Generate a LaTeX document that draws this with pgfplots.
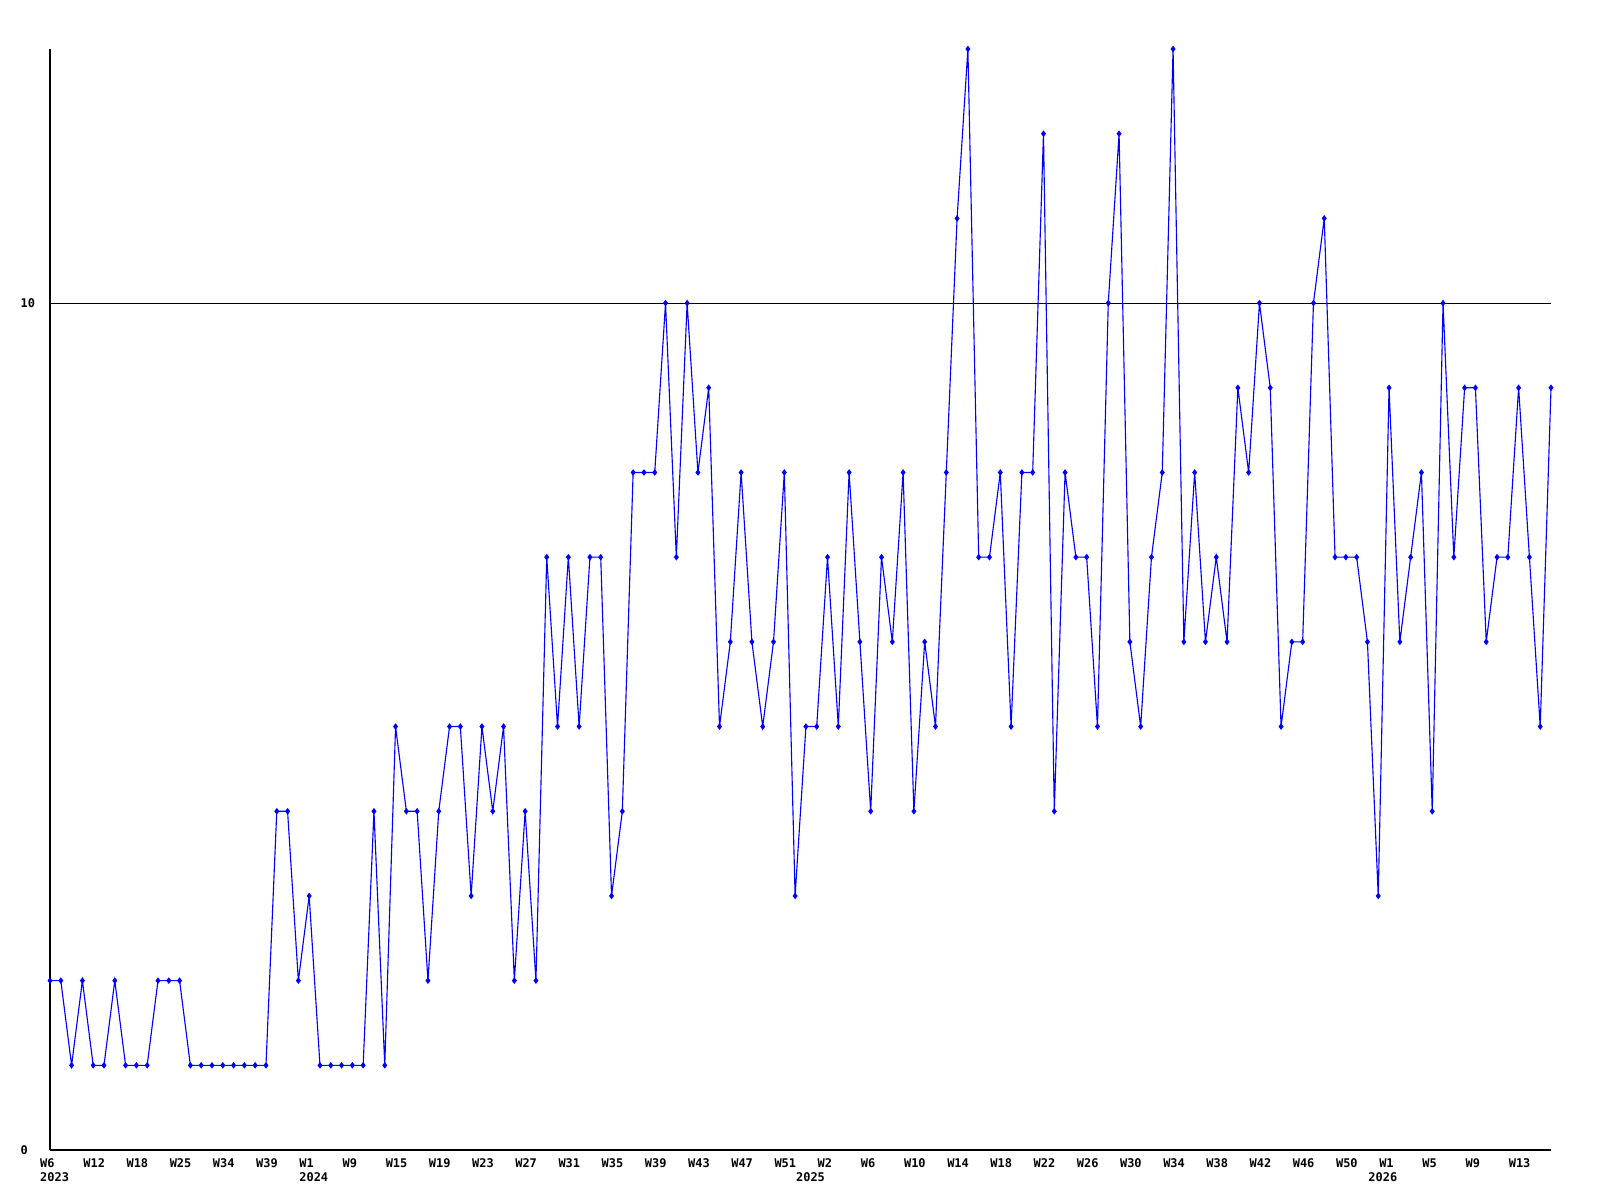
\documentclass[border=0pt]{standalone}
\usepackage{fontspec}
\setmonofont{DejaVu Sans Mono}
\usepackage{pgfplots}
\pgfplotsset{compat=1.18}

\newcommand{\lblfont}{\ttfamily\bfseries\fontsize{3.4}{4}\selectfont}
\tikzset{yearlbl/.style={anchor=north west, inner sep=0pt, font=\lblfont, xshift=-0.105cm, yshift=-0.22cm}}

\begin{document}
\begin{tikzpicture}
\useasboundingbox (0,0) rectangle (16,12);
\begin{axis}[
    at={(0.5cm,0.5cm)}, anchor=south west,
    width=15.01cm, height=11.01cm, scale only axis,
    xmin=0, xmax=139, ymin=0, ymax=13,
    axis lines*=left,
    axis line style={black, line width=0.3pt},
    xtick={0,4,...,136},
    xticklabels={W6,W12,W18,W25,W34,W39,W1,W9,W15,W19,W23,W27,W31,W35,W39,W43,W47,W51,
                 W2,W6,W10,W14,W18,W22,W26,W30,W34,W38,W42,W46,W50,W1,W5,W9,W13},
    ytick={0,10}, yticklabels={0,10},
    ymajorgrids, grid style={black, line width=0.3pt},
    major tick length=0pt,
    tick label style={font=\lblfont, inner sep=0pt},
    xticklabel style={anchor=north west, xshift=-0.105cm, yshift=-0.08cm},
    yticklabel style={anchor=west, xshift=-0.30cm},
    clip=false,
  ]
  % weekly counts, one point per week shown
  \addplot[color={rgb,255:red,0;green,0;blue,255}, line width=0.32pt,
           mark=diamond*, mark size=0.024cm, mark options={solid}] coordinates {
    (0,2) (1,2) (2,1) (3,2) (4,1) (5,1) (6,2) (7,1) (8,1) (9,1)
    (10,2) (11,2) (12,2) (13,1) (14,1) (15,1) (16,1) (17,1) (18,1) (19,1)
    (20,1) (21,4) (22,4) (23,2) (24,3) (25,1) (26,1) (27,1) (28,1) (29,1)
    (30,4) (31,1) (32,5) (33,4) (34,4) (35,2) (36,4) (37,5) (38,5) (39,3)
    (40,5) (41,4) (42,5) (43,2) (44,4) (45,2) (46,7) (47,5) (48,7) (49,5)
    (50,7) (51,7) (52,3) (53,4) (54,8) (55,8) (56,8) (57,10) (58,7) (59,10)
    (60,8) (61,9) (62,5) (63,6) (64,8) (65,6) (66,5) (67,6) (68,8) (69,3)
    (70,5) (71,5) (72,7) (73,5) (74,8) (75,6) (76,4) (77,7) (78,6) (79,8)
    (80,4) (81,6) (82,5) (83,8) (84,11) (85,13) (86,7) (87,7) (88,8) (89,5)
    (90,8) (91,8) (92,12) (93,4) (94,8) (95,7) (96,7) (97,5) (98,10) (99,12)
    (100,6) (101,5) (102,7) (103,8) (104,13) (105,6) (106,8) (107,6) (108,7) (109,6)
    (110,9) (111,8) (112,10) (113,9) (114,5) (115,6) (116,6) (117,10) (118,11) (119,7)
    (120,7) (121,7) (122,6) (123,3) (124,9) (125,6) (126,7) (127,8) (128,4) (129,10)
    (130,7) (131,9) (132,9) (133,6) (134,7) (135,7) (136,9) (137,7) (138,5) (139,9)
  };
  % year labels under the first week of each year
  \node[yearlbl] at (axis cs:0,0) {2023};
  \node[yearlbl] at (axis cs:24,0) {2024};
  \node[yearlbl] at (axis cs:70,0) {2025};
  \node[yearlbl] at (axis cs:123,0) {2026};
\end{axis}
\end{tikzpicture}
\end{document}
